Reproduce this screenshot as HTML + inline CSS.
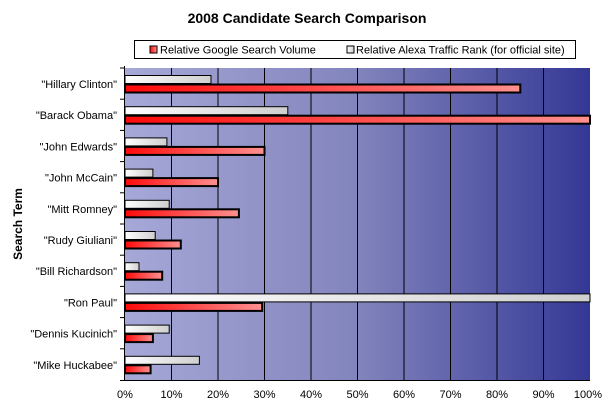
<!DOCTYPE html>
<html><head><style>
body{margin:0;background:#fff;width:615px;height:411px;overflow:hidden;font-family:"Liberation Sans",sans-serif}
</style></head><body>
<svg width="615" height="411" xmlns="http://www.w3.org/2000/svg" font-family="Liberation Sans, sans-serif">
<defs>
<linearGradient id="bg" x1="0" x2="1" y1="0" y2="0"><stop offset="0" stop-color="#a6a8d8"/><stop offset="0.5" stop-color="#8284bc"/><stop offset="1" stop-color="#343895"/></linearGradient>
<linearGradient id="red" x1="0" x2="1"><stop offset="0" stop-color="#ff0a0a"/><stop offset="1" stop-color="#ff9090"/></linearGradient>
<linearGradient id="wh" x1="0" x2="1"><stop offset="0" stop-color="#ffffff"/><stop offset="1" stop-color="#cfcfcf"/></linearGradient>
</defs>
<text x="307" y="23" font-size="14" font-weight="bold" text-anchor="middle">2008 Candidate Search Comparison</text>
<rect x="134.5" y="40.5" width="441" height="18" fill="#fff" stroke="#000"/>
<rect x="150" y="46" width="7" height="7" fill="url(#red)" stroke="#000"/>
<text x="160" y="53.5" font-size="11">Relative Google Search Volume</text>
<rect x="347" y="46" width="7" height="7" fill="url(#wh)" stroke="#000"/>
<text x="356" y="53.5" font-size="11">Relative Alexa Traffic Rank (for official site)</text>
<rect x="125" y="68" width="465" height="312" fill="url(#bg)"/>
<g stroke="#000" stroke-width="1">
<line x1="171.5" y1="68" x2="171.5" y2="380"/><line x1="218" y1="68" x2="218" y2="380"/><line x1="264.5" y1="68" x2="264.5" y2="380"/><line x1="311" y1="68" x2="311" y2="380"/><line x1="357.5" y1="68" x2="357.5" y2="380"/><line x1="404" y1="68" x2="404" y2="380"/><line x1="450.5" y1="68" x2="450.5" y2="380"/><line x1="497" y1="68" x2="497" y2="380"/><line x1="543.5" y1="68" x2="543.5" y2="380"/>
<line x1="124.5" y1="66" x2="124.5" y2="380"/><line x1="120" y1="380.5" x2="590" y2="380.5"/>
<line x1="120" x2="125" y1="68" y2="68"/>
<line x1="120" x2="125" y1="99.2" y2="99.2"/><line x1="120" x2="125" y1="130.4" y2="130.4"/><line x1="120" x2="125" y1="161.6" y2="161.6"/><line x1="120" x2="125" y1="192.8" y2="192.8"/><line x1="120" x2="125" y1="224" y2="224"/><line x1="120" x2="125" y1="255.2" y2="255.2"/><line x1="120" x2="125" y1="286.4" y2="286.4"/><line x1="120" x2="125" y1="317.6" y2="317.6"/><line x1="120" x2="125" y1="348.8" y2="348.8"/>
</g>
<g stroke="#000" fill="url(#wh)">
<rect x="125" y="75.5" width="86" height="8"/>
<rect x="125" y="106.7" width="162.8" height="8"/>
<rect x="125" y="137.9" width="41.9" height="8"/>
<rect x="125" y="169.1" width="27.9" height="8"/>
<rect x="125" y="200.3" width="44.2" height="8"/>
<rect x="125" y="231.5" width="30.2" height="8"/>
<rect x="125" y="262.7" width="14" height="8"/>
<rect x="125" y="293.9" width="465" height="8"/>
<rect x="125" y="325.1" width="44.2" height="8"/>
<rect x="125" y="356.3" width="74.4" height="8"/>
</g>
<g stroke="#000" stroke-width="2" fill="url(#red)">
<rect x="125" y="84.5" width="395.3" height="8"/>
<rect x="125" y="115.7" width="465" height="8"/>
<rect x="125" y="146.9" width="139.5" height="8"/>
<rect x="125" y="178.1" width="93" height="8"/>
<rect x="125" y="209.3" width="113.9" height="8"/>
<rect x="125" y="240.5" width="55.8" height="8"/>
<rect x="125" y="271.7" width="37.2" height="8"/>
<rect x="125" y="302.9" width="137.2" height="8"/>
<rect x="125" y="334.1" width="27.9" height="8"/>
<rect x="125" y="365.3" width="25.6" height="8"/>
</g>
<g font-size="11" text-anchor="end">
<text x="117" y="88">"Hillary Clinton"</text>
<text x="117" y="119.2">"Barack Obama"</text>
<text x="117" y="150.4">"John Edwards"</text>
<text x="117" y="181.6">"John McCain"</text>
<text x="117" y="212.8">"Mitt Romney"</text>
<text x="117" y="244">"Rudy Giuliani"</text>
<text x="117" y="275.2">"Bill Richardson"</text>
<text x="117" y="306.4">"Ron Paul"</text>
<text x="117" y="337.6">"Dennis Kucinich"</text>
<text x="117" y="368.8">"Mike Huckabee"</text>
</g>
<g font-size="11" text-anchor="middle">
<text x="125" y="398">0%</text><text x="171.5" y="398">10%</text><text x="218" y="398">20%</text><text x="264.5" y="398">30%</text><text x="311" y="398">40%</text><text x="357.5" y="398">50%</text><text x="404" y="398">60%</text><text x="450.5" y="398">70%</text><text x="497" y="398">80%</text><text x="543.5" y="398">90%</text><text x="588" y="398">100%</text>
</g>
<text transform="translate(22,224) rotate(-90)" font-size="12" font-weight="bold" text-anchor="middle">Search Term</text>
</svg>
</body></html>
